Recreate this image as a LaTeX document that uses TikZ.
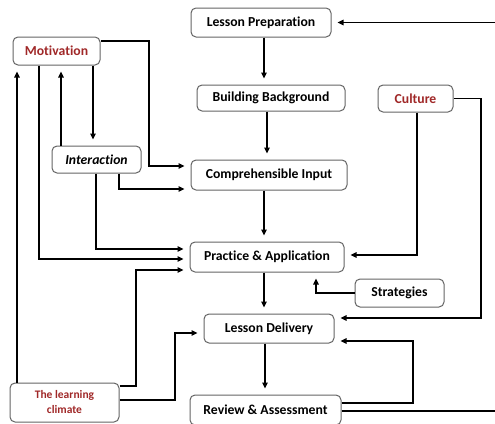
\documentclass[tikz,border=0pt]{standalone}
\usepackage{fontspec}
\setmainfont[Ligatures=NoCommon]{Carlito}
\usetikzlibrary{arrows.meta,calc}
\definecolor{boxline}{RGB}{100,100,100}
\definecolor{redtxt}{RGB}{160,40,40}
\tikzset{
  box/.style={draw=boxline, line width=1pt, rounded corners=5pt, fill=white,
    inner sep=0pt, font=\fontsize{13.7}{15}\selectfont\bfseries, align=center},
  redbox/.style={box, text=redtxt},
  arr/.style={line width=1.8pt, -{Triangle[length=6pt,width=5.5pt]}, shorten >=6pt},
}
\begin{document}
\begin{tikzpicture}[x=1pt,y=-1pt]
\useasboundingbox (0,0) rectangle (495,423);
\clip (0,0) rectangle (495,423);
\node[box, minimum width=140, minimum height=29] (lp) at (261,22.5) {Lesson Preparation};
\node[box, minimum width=148, minimum height=26] (bb) at (271,98) {Building Background};
\node[box, minimum width=156, minimum height=30] (ci) at (269,175) {Comprehensible Input};
\node[redbox, minimum width=75, minimum height=27] (cul) at (415.5,98.5) {Culture};
\node[redbox, minimum width=87, minimum height=28] (mot) at (56.5,51) {Motivation};
\node[box, minimum width=89, minimum height=27, font=\fontsize{13.7}{15}\selectfont\bfseries\itshape] (int) at (96.5,159.5) {Interaction};
\node[box, minimum width=154, minimum height=30] (pa) at (267,257) {Practice \& Application};
\node[box, minimum width=89, minimum height=28] (str) at (399.5,293) {Strategies};
\node[box, minimum width=130, minimum height=29] (ld) at (269,328.5) {Lesson Delivery};
\node[box, minimum width=151, minimum height=30] (ra) at (265.5,410) {Review \& Assessment};
\node[redbox, minimum width=109, minimum height=39, font=\fontsize{11.5}{15}\selectfont\bfseries] (lc) at (64.5,402.5) {The learning\\climate};

% main chain
\draw[arr] (264,0 |- lp.south) -- (264,0 |- bb.north);
\draw[arr] (267,0 |- bb.south) -- (267,0 |- ci.north);
\draw[arr] (264,0 |- ci.south) -- (264,0 |- pa.north);
\draw[arr] (264,0 |- pa.south) -- (264,0 |- ld.north);
\draw[arr] (265,0 |- ld.south) -- (265,0 |- ra.north);

% outer loop from Review to Lesson Preparation
\draw[arr] (0,411 -| ra.east) -- (500,411) -- (500,22.5) -- (lp.east);
% Review to Lesson Delivery
\draw[arr] (0,403 -| ra.east) -- (413,403) -- (413,341) -- (0,341 -| ld.east);

% Culture
\draw[arr] (cul.east) -- (481,0 |- cul.east) -- (481,318) -- (0,318 -| ld.east);
\draw[arr] (417,0 |- cul.south) -- (417,255) -- (0,255 -| pa.east);
% Strategies
\draw[arr] (str.west) -- (316,0 |- str.west) -- (316,0 |- pa.south);

% Motivation / Interaction
\draw[arr] (0,41 -| mot.east) -- (149,41) -- (149,166) -- (0,166 -| ci.west);
\draw[arr] (119,0 |- int.south) -- (119,189) -- (0,189 -| ci.west);
\draw[arr] (93,0 |- mot.south) -- (93,0 |- int.north);
\draw[arr] (61,0 |- int.north) -- (61,0 |- mot.south);
\draw[arr] (39,0 |- mot.south) -- (39,259) -- (0,259 -| pa.west);
\draw[arr] (96,0 |- int.south) -- (96,249) -- (0,249 -| pa.west);

% Learning climate
\draw[arr] (0,386 -| lc.east) -- (136,386) -- (136,270) -- (0,270 -| pa.west);
\draw[arr] (0,400 -| lc.east) -- (175,400) -- (175,333) -- (0,333 -| ld.west);
\draw[arr] (17,0 |- lc.north) -- (17,0 |- mot.south);
\end{tikzpicture}
\end{document}
